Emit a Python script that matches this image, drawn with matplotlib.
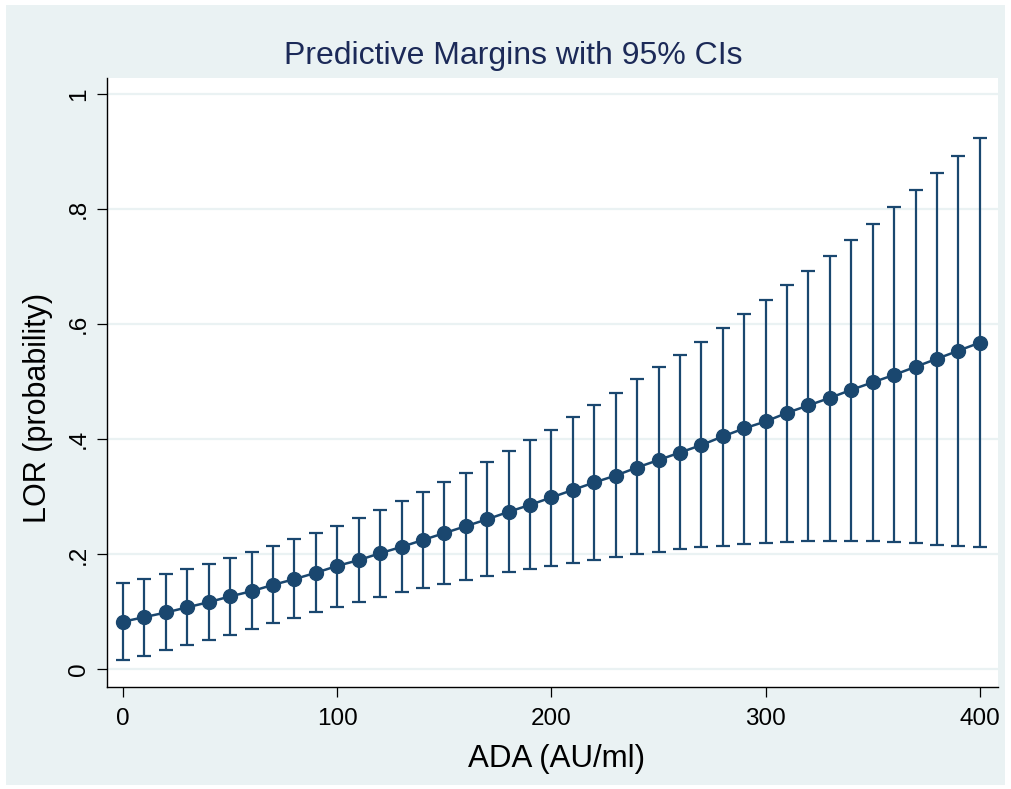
import matplotlib.pyplot as plt
from matplotlib.patches import Rectangle
import numpy as np

plt.rcParams['font.family'] = ['Liberation Sans', 'DejaVu Sans']

NAVY = "#1a476f"
PANEL = "#eaf2f3"

ada = [0, 10, 20, 30, 40, 50, 60, 70, 80, 90,
       100, 110, 120, 130, 140, 150, 160, 170, 180, 190,
       200, 210, 220, 230, 240, 250, 260, 270, 280, 290,
       300, 310, 320, 330, 340, 350, 360, 370, 380, 390, 400]

margin = [0.083, 0.091, 0.099, 0.108, 0.117, 0.127, 0.136, 0.147, 0.157, 0.168,
          0.180, 0.190, 0.202, 0.213, 0.225, 0.237, 0.249, 0.261, 0.274, 0.286,
          0.299, 0.312, 0.325, 0.337, 0.351, 0.364, 0.377, 0.390, 0.405, 0.419,
          0.431, 0.446, 0.459, 0.472, 0.486, 0.499, 0.512, 0.526, 0.540, 0.554, 0.568]

ci_low = [0.017, 0.024, 0.033, 0.042, 0.051, 0.060, 0.070, 0.080, 0.090, 0.100,
          0.109, 0.118, 0.126, 0.134, 0.142, 0.149, 0.156, 0.162, 0.169, 0.174,
          0.180, 0.185, 0.190, 0.196, 0.200, 0.204, 0.209, 0.213, 0.215, 0.218,
          0.220, 0.222, 0.223, 0.224, 0.224, 0.223, 0.222, 0.220, 0.217, 0.215, 0.212]

ci_high = [0.150, 0.157, 0.166, 0.175, 0.184, 0.194, 0.204, 0.215, 0.226, 0.237,
           0.250, 0.263, 0.277, 0.292, 0.308, 0.325, 0.342, 0.360, 0.379, 0.398,
           0.417, 0.438, 0.459, 0.481, 0.504, 0.526, 0.547, 0.570, 0.593, 0.617,
           0.642, 0.668, 0.693, 0.719, 0.747, 0.775, 0.803, 0.833, 0.863, 0.893, 0.923]

x_ticks = [0, 100, 200, 300, 400]
y_ticks = [0, 0.2, 0.4, 0.6, 0.8, 1.0]
y_tick_labels = ["0", ".2", ".4", ".6", ".8", "1"]


def main():
    W, H = 1011, 789
    fig = plt.figure(figsize=(W / 100, H / 100), dpi=100, facecolor="white")

    # light graph region behind everything
    fig.patches.append(Rectangle((6 / W, 4 / H), 999 / W, 780 / H,
                                 transform=fig.transFigure, facecolor=PANEL,
                                 edgecolor="none", zorder=-5))

    ax = fig.add_axes([107 / W, 1 - 687 / H, 891 / W, 609 / H])
    ax.set_facecolor("white")

    y = np.array(margin)
    yerr = [y - np.array(ci_low), np.array(ci_high) - y]
    ax.errorbar(ada, y, yerr=yerr, fmt="none", ecolor=NAVY, elinewidth=1.6,
                capsize=4.8, capthick=1.6, zorder=3)
    ax.plot(ada, y, color=NAVY, linewidth=1.8, marker="o", markersize=10,
            markerfacecolor=NAVY, markeredgecolor=NAVY, zorder=4)

    ax.set_xlim(-7.5, 408.5)
    ax.set_ylim(-0.0305, 1.028)
    ax.set_xticks(x_ticks)
    ax.set_yticks(y_ticks)
    ax.set_yticklabels(y_tick_labels, rotation=90, va="center")
    ax.grid(axis="y", color=PANEL, linewidth=1.6)
    ax.set_axisbelow(True)

    for side in ["top", "right"]:
        ax.spines[side].set_visible(False)
    for side in ["left", "bottom"]:
        ax.spines[side].set_color("black")
        ax.spines[side].set_linewidth(1.0)

    ax.tick_params(axis="both", length=7.5, width=0.9, color="black",
                   labelsize=17.5)
    ax.tick_params(axis="x", pad=7.5)
    ax.tick_params(axis="y", pad=5)

    ax.set_xlabel("ADA (AU/ml)", fontsize=22.5, va="top")
    ax.xaxis.set_label_coords(0.505, -0.094)
    ax.set_ylabel("LOR (probability)", fontsize=22)
    ax.yaxis.set_label_coords(-0.061, 0.458)

    fig.text(0.508, 1 - 64 / H, "Predictive Margins with 95% CIs",
             ha="center", va="baseline", fontsize=23, color="#1c2a58")

    fig.savefig("out.png", dpi=100, facecolor="white")


if __name__ == "__main__":
    main()
